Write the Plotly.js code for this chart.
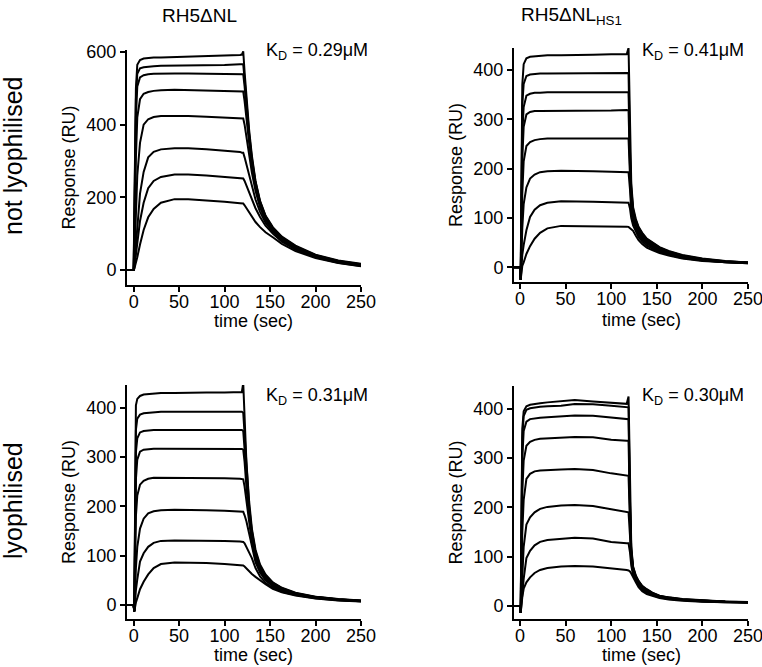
<!DOCTYPE html>
<html>
<head>
<meta charset="utf-8">
<script src="https://cdn.plot.ly/plotly-3.0.1.min.js"></script>
<style>html,body{margin:0;padding:0;background:#fff;}#chart{width:762px;height:667px;}</style>
</head>
<body>
<div id="chart"></div>
<script>
// Shared time axis (sec)
const time = [-7, 0, 0.7, 1.5, 2.5, 4, 7, 11, 16, 22, 30, 45, 60, 80, 100, 117, 119, 120.5, 122, 124, 127, 130, 134, 139, 145, 153, 163, 178, 200, 225, 250];

// Panel labels
const columnTitles = ["RH5ΔNL", "RH5ΔNL<sub>HS1</sub>"];
const rowTitles = ["not lyophilised", "lyophilised"];
const kdLabels = ["K<sub>D</sub> = 0.29μM", "K<sub>D</sub> = 0.41μM", "K<sub>D</sub> = 0.31μM", "K<sub>D</sub> = 0.30μM"];
const xTitle = "time (sec)";
const yTitle = "Response (RU)";
const xTicks = [0, 50, 100, 150, 200, 250];
const yTicksTL = [0, 200, 400, 600];
const yTicksOther = [0, 100, 200, 300, 400];

// Top-left: RH5ΔNL, not lyophilised (RU)
const tl1 = [0,0,150,350,500,565,578,582,584,585,585,586,587,588,590,592,593,602,545,470,385,315,245,190,150,118,92,67,42,26,17];
const tl2 = [0,0,130,320,470,540,555,558,560,561,562,562,562,563,564,566,566,566,525,455,375,308,242,188,148,116,90,65,41,25,16];
const tl3 = [0,0,100,270,420,505,530,536,539,540,541,541,541,540,540,539,539,539,505,440,365,300,237,185,145,114,88,63,40,24,15];
const tl4 = [0,0,60,180,310,420,470,485,490,493,495,496,495,494,492,491,491,491,465,415,350,290,230,180,142,112,86,62,39,23,14];
const tl5 = [0,0,25,80,160,260,350,400,415,421,424,425,424,422,420,418,417,417,400,365,315,268,218,172,137,109,84,60,38,22,13];
const tl6 = [0,0,10,35,70,125,210,270,310,325,332,335,335,332,329,325,323,323,310,290,258,228,194,160,130,105,82,58,36,21,12];
const tl7 = [0,0,5,20,40,70,135,185,225,245,256,263,263,260,256,253,252,252,245,232,212,192,170,146,122,100,78,56,35,20,11];
const tl8 = [0,0,3,10,20,35,70,110,145,168,185,195,195,192,188,184,183,183,178,170,158,146,132,118,104,90,72,52,33,19,10];

// Top-right: RH5ΔNL HS1, not lyophilised
const tr1 = [0,0,-25,230,370,412,424,427,428,429,430,430,431,431,432,432,445,260,170,122,98,82,70,58,50,41,33,25,18,13,10];
const tr2 = [0,0,-25,190,330,372,388,391,392,393,393,393,393,393,394,394.5,394,240,160,117,95,80,68,57,49,40,32,24,17,12.5,9.8];
const tr3 = [0,0,-25,140,270,325,348,352,354,354,355,355,355,355,355,356,355,225,150,112,91,77,66,55,47,39,31,23,16.5,12,9.5];
const tr4 = [0,0,-25,100,220,285,310,315,317,317,317,317,317,317,318,319,318,210,140,106,87,74,63,53,45,37,30,22,16,11.5,9.2];
const tr5 = [0,0,-25,60,150,215,246,254,258,260,261,261,261.5,261,261,261.5,261,190,128,100,83,70,60,51,43,35,28,21,15,11,9];
const tr6 = [0,0,-25,30,80,128,162,180,188,193,195,196,195,195,194,194,193,160,115,93,78,66,56,48,41,33,27,20,14.5,10.5,8.7];
const tr7 = [0,0,-25,5,25,45,75,102,117,126,131,134,133,133,132,131,131,120,100,85,72,61,52,44,38,31,25.5,19,14,10.2,8.4];
const tr8 = [0,0,-25,-5,3,10,27,43,58,70,79,84,84,83.5,83,82.5,82,80,78,74,64,55,47,40,35,29,24,18,13,10,8];

// Bottom-left: RH5ΔNL, lyophilised
const bl1 = [0,0,-13,300,405,418,424,427,428,429,430,430,431,431,431,431,432,450,370,290,210,155,112,82,62,46,35,25,17,12,9];
const bl2 = [0,0,-13,240,355,378,386,389,390,391,392,392,392,392,392,392,392,390,345,275,200,150,108,79,60,45,34,24,16.5,11.5,8.8];
const bl3 = [0,0,-13,180,310,338,350,353,354,355,355,355,355,355,355,355,355,353,318,258,190,143,104,77,58,44,33,23.5,16,11.2,8.6];
const bl4 = [0,0,-13,130,255,295,311,315,316,317,317,317,317,317,317,317,316.5,315,290,240,180,137,100,74,56,42,32,23,15.5,11,8.4];
const bl5 = [0,0,-13,80,180,222,244,252,256,258,258,258,258,257.5,257,256,256,255,240,210,165,127,94,70,53,40,31,22,15,10.5,8];
const bl6 = [0,0,-13,35,75,118,155,175,186,190,192,193,193,192,191,190,190,189,182,170,145,117,87,66,50,38,29,21,14.5,10,7.8];
const bl7 = [0,0,-13,10,30,52,88,105,118,126,130,131,131,130.5,130,129,129,128,125,118,108,95,75,58,45,35,27,20,13.5,9.5,7.4];
const bl8 = [0,0,-13,-3,5,14,32,47,62,75,83,86,86,85,83,81,81,80,78,74,69,63,57,50,42,33,26,19,13,9,7];

// Bottom-right: RH5ΔNL HS1, lyophilised
const br1 = [0,0,-14,230,360,395,405,408,410,411,413,415,418,415,413,410,425,230,120,80,62,51,41,34,27,21,17.5,14,11,9,8];
const br2 = [0,0,-14,200,340,385,398,401,403,404,405,406,409.5,409,406,403,403,220,115,78,60,50,40,33,26.5,20.5,17,13.5,10.8,8.8,7.9];
const br3 = [0,0,-14,160,300,355,374,379,381,382,383,385,386.5,386,382,379,379,210,110,76,59,49,39,32,26,20,16.5,13.2,10.5,8.6,7.8];
const br4 = [0,0,-14,110,230,295,325,333,337,339,340,342,343,342,337,335,335,195,105,74,58,47,38,31,25,19.5,16,12.8,10.2,8.4,7.6];
const br5 = [0,0,-14,60,150,215,258,268,273,275,276,277,278,276,269,264,264,175,100,71,56,45,36,29.5,24,19,15.5,12.5,10,8.2,7.4];
const br6 = [0,0,-14,25,75,120,165,180,190,197,201,204,205,203,196,190,190,145,92,68,54,43,35,28.5,23,18,15,12,9.7,8,7.2];
const br7 = [0,0,-14,5,30,55,97,112,123,130,134,137,138.5,137,130,127,127,110,82,63,51,41,33,27,22,17.5,14,11.5,9.2,7.6,6.9];
const br8 = [0,0,-14,5,18,35,48,58,67,73,77,80,81,80,77,73,72,70,66,58,48,38,30,24,20,16,13,10.5,8.5,7,6.5];

const panels = [
  {curves: [tl1,tl2,tl3,tl4,tl5,tl6,tl7,tl8], xa: 'x', ya: 'y'},
  {curves: [tr1,tr2,tr3,tr4,tr5,tr6,tr7,tr8], xa: 'x2', ya: 'y2'},
  {curves: [bl1,bl2,bl3,bl4,bl5,bl6,bl7,bl8], xa: 'x3', ya: 'y3'},
  {curves: [br1,br2,br3,br4,br5,br6,br7,br8], xa: 'x4', ya: 'y4'}
];

const traces = [];
panels.forEach(p => {
  p.curves.forEach(c => {
    traces.push({x: time, y: c, xaxis: p.xa, yaxis: p.ya, type: 'scatter', mode: 'lines',
      line: {color: '#000', width: 2}, showlegend: false, hoverinfo: 'skip'});
  });
});

const FONT = 'Liberation Sans, Arial, Helvetica, sans-serif';
function xAxis(domain, range, anchor) {
  return {domain: domain, range: range, anchor: anchor, tickvals: xTicks, ticktext: xTicks.map(String),
    showline: true, linecolor: '#000', linewidth: 2, ticks: 'outside', ticklen: 5, tickwidth: 2, tickcolor: '#000',
    ticklabeloverflow: 'allow', ticklabelstandoff: -6,
    showgrid: false, zeroline: false, tickfont: {family: FONT, size: 18, color: '#000'}};
}
function yAxis(domain, range, anchor, ticks) {
  return {domain: domain, range: range, anchor: anchor, tickvals: ticks, ticktext: ticks.map(String),
    showline: true, linecolor: '#000', linewidth: 2, ticks: 'outside', ticklen: 5, tickwidth: 2, tickcolor: '#000',
    ticklabeloverflow: 'allow',
    showgrid: false, zeroline: false, tickfont: {family: FONT, size: 18, color: '#000'},
    title: {text: yTitle, font: {family: FONT, size: 18, color: '#000'}, standoff: 6}};
}

const W = 762, H = 667;
const px = v => v / W, py = v => 1 - v / H;
function ann(text, x, y, size, extra) {
  return Object.assign({text: text, x: px(x), y: py(y), xref: 'paper', yref: 'paper', showarrow: false,
    xanchor: 'center', yanchor: 'middle', font: {family: FONT, size: size, color: '#000'}}, extra || {});
}

const layout = {
  width: W, height: H, margin: {l: 0, r: 0, t: 0, b: 0},
  paper_bgcolor: '#fff', plot_bgcolor: '#fff', showlegend: false,
  font: {family: FONT, color: '#000'},
  xaxis:  xAxis([px(127), px(361)], [-7.3, 250], 'y'),
  yaxis:  yAxis([py(285), py(50)], [-41.3, 605.5], 'x', yTicksTL),
  xaxis2: xAxis([px(514), px(748)], [-6.6, 250], 'y2'),
  yaxis2: yAxis([py(282), py(48)], [-29.8, 444.8], 'x2', yTicksOther),
  xaxis3: xAxis([px(127), px(361)], [-7.3, 250], 'y3'),
  yaxis3: yAxis([py(619), py(385)], [-28.4, 446.2], 'x3', yTicksOther),
  xaxis4: xAxis([px(514), px(748)], [-6.6, 250], 'y4'),
  yaxis4: yAxis([py(619), py(386)], [-26.4, 446.2], 'x4', yTicksOther),
  annotations: [
    ann(columnTitles[0], 199, 16, 19),
    ann(columnTitles[1], 571, 16, 19),
    ann(rowTitles[0], 13, 156, 25, {textangle: -90}),
    ann(rowTitles[1], 13, 501, 25, {textangle: -90}),
    ann(kdLabels[0], 264, 51, 18, {xanchor: 'left'}),
    ann(kdLabels[1], 640, 51, 18, {xanchor: 'left'}),
    ann(kdLabels[2], 264, 396, 18, {xanchor: 'left'}),
    ann(kdLabels[3], 640, 396, 18, {xanchor: 'left'}),
    ann(xTitle, 253, 321, 18),
    ann(xTitle, 641, 320, 18),
    ann(xTitle, 253, 655, 18),
    ann(xTitle, 641, 655, 18)
  ]
};

Plotly.newPlot('chart', traces, layout, {displayModeBar: false, staticPlot: true});
</script>
</body>
</html>
